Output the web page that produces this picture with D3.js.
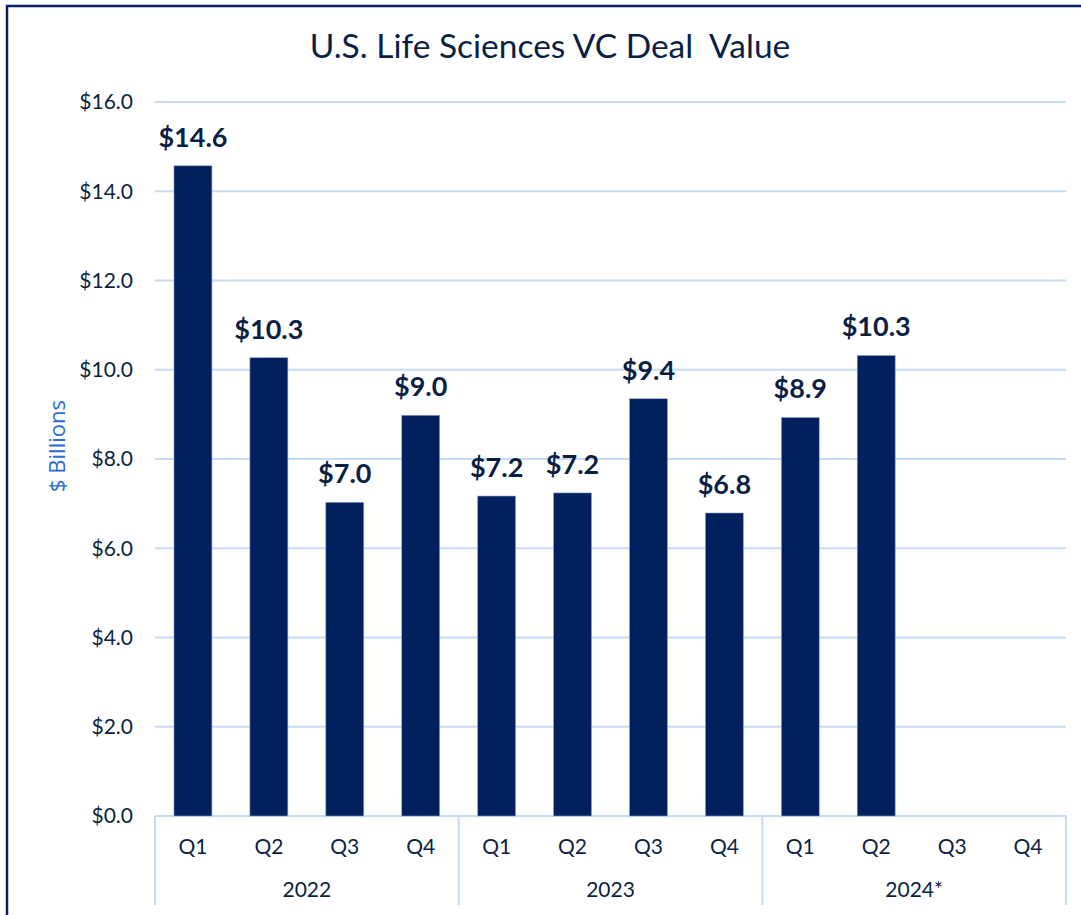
<!DOCTYPE html>
<html>
<head>
<meta charset="utf-8">
<script src="https://cdn.jsdelivr.net/npm/d3@7"></script>
<style>
  html, body { margin: 0; padding: 0; background: #fff; }
  svg { display: block; }
</style>
</head>
<body>
<svg id="chart" width="1081" height="915"></svg>
<script>
// data
var years = ['2022', '2023', '2024*'];
var quarters = ['Q1', 'Q2', 'Q3', 'Q4'];
var labels2022 = ['$14.6', '$10.3', '$7.0', '$9.0'];
var labels2023 = ['$7.2', '$7.2', '$9.4', '$6.8'];
var labels2024 = ['$8.9', '$10.3', '', ''];
var values2022 = [14.57, 10.27, 7.03, 8.98];
var values2023 = [7.17, 7.24, 9.35, 6.79];
var values2024 = [8.93, 10.32, null, null];
var yTicks = [0, 2, 4, 6, 8, 10, 12, 14, 16];

var navy = '#0b1f45';
var barColor = '#03205e';
var gridColor = '#c6dcf6';
var font = 'Lato, "Open Sans", sans-serif';

var allValues = [values2022, values2023, values2024];
var allLabels = [labels2022, labels2023, labels2024];
var data = [];
years.forEach(function (yr, i) {
    quarters.forEach(function (q, j) {
        data.push({
            key: yr + '-' + q,
            year: yr,
            quarter: q,
            value: allValues[i][j],
            label: allLabels[i][j],
        });
    });
});

var svg = d3.select('#chart');

// outer frame
svg.append('rect')
    .attr('x', 7)
    .attr('y', 6)
    .attr('width', 1100)
    .attr('height', 1000)
    .attr('fill', 'none')
    .attr('stroke', '#0a2264')
    .attr('stroke-width', 2.5);

var plotLeft = 155, plotRight = 1066, plotTop = 102, plotBottom = 816;

var x = d3.scaleBand()
    .domain(data.map((d) => d.key))
    .range([plotLeft, plotRight])
    .paddingInner(0.5)
    .paddingOuter(0.25);

var y = d3.scaleLinear().domain([0, 16]).range([plotBottom, plotTop]);

// title
svg.append('text')
    .attr('x', 550)
    .attr('y', 58)
    .attr('text-anchor', 'middle')
    .style('font-family', font)
    .style('font-size', '33.5px')
    .style('white-space', 'pre')
    .style('fill', navy)
    .text('U.S. Life Sciences VC Deal  Value');

// gridlines
svg.append('g')
    .selectAll('line')
    .data(yTicks)
    .enter()
    .append('line')
    .attr('x1', plotLeft)
    .attr('x2', plotRight)
    .attr('y1', (d) => y(d))
    .attr('y2', (d) => y(d))
    .attr('stroke', gridColor)
    .attr('stroke-width', 2);

// y tick labels
svg.append('g')
    .selectAll('text')
    .data(yTicks)
    .enter()
    .append('text')
    .attr('x', 133)
    .attr('y', (d) => y(d))
    .attr('dy', '0.35em')
    .attr('text-anchor', 'end')
    .style('font-family', font)
    .style('font-size', '21px')
    .style('fill', navy)
    .text((d) => '$' + d.toFixed(1));

// y axis title
svg.append('text')
    .attr('transform', 'translate(65,446) rotate(-90)')
    .attr('text-anchor', 'middle')
    .style('font-family', '"Open Sans", sans-serif')
    .style('font-size', '22px')
    .style('fill', '#2b6cd4')
    .text('$ Billions');

// bars
var bars = data.filter((d) => d.value !== null);
svg.append('g')
    .selectAll('rect')
    .data(bars)
    .enter()
    .append('rect')
    .attr('x', (d) => x(d.key))
    .attr('width', x.bandwidth())
    .attr('y', (d) => y(d.value))
    .attr('height', (d) => y(0) - y(d.value))
    .attr('fill', barColor)
    .attr('stroke', '#8fa6cf')
    .attr('stroke-width', 0.6);

// value labels
svg.append('g')
    .selectAll('text')
    .data(bars)
    .enter()
    .append('text')
    .attr('x', (d) => x(d.key) + x.bandwidth() / 2)
    .attr('y', (d) => y(d.value) - 19)
    .attr('text-anchor', 'middle')
    .style('font-family', font)
    .style('font-size', '27px')
    .style('font-weight', 'bold')
    .style('fill', navy)
    .text((d) => d.label);

// category axis: quarters, then years
svg.append('g')
    .selectAll('text')
    .data(data)
    .enter()
    .append('text')
    .attr('x', (d) => x(d.key) + x.bandwidth() / 2)
    .attr('y', 847)
    .attr('dy', '0.35em')
    .attr('text-anchor', 'middle')
    .style('font-family', font)
    .style('font-size', '21px')
    .style('fill', navy)
    .text((d) => d.quarter);

var groupW = (plotRight - plotLeft) / years.length;
svg.append('g')
    .selectAll('line')
    .data(d3.range(years.length + 1))
    .enter()
    .append('line')
    .attr('x1', (i) => plotLeft + i * groupW)
    .attr('x2', (i) => plotLeft + i * groupW)
    .attr('y1', plotBottom)
    .attr('y2', 905)
    .attr('stroke', gridColor)
    .attr('stroke-width', 2);

svg.append('g')
    .selectAll('text')
    .data(years)
    .enter()
    .append('text')
    .attr('x', (d, i) => plotLeft + (i + 0.5) * groupW)
    .attr('y', 890)
    .attr('dy', '0.35em')
    .attr('text-anchor', 'middle')
    .style('font-family', font)
    .style('font-size', '21px')
    .style('fill', navy)
    .text((d) => d);
</script>
</body>
</html>
